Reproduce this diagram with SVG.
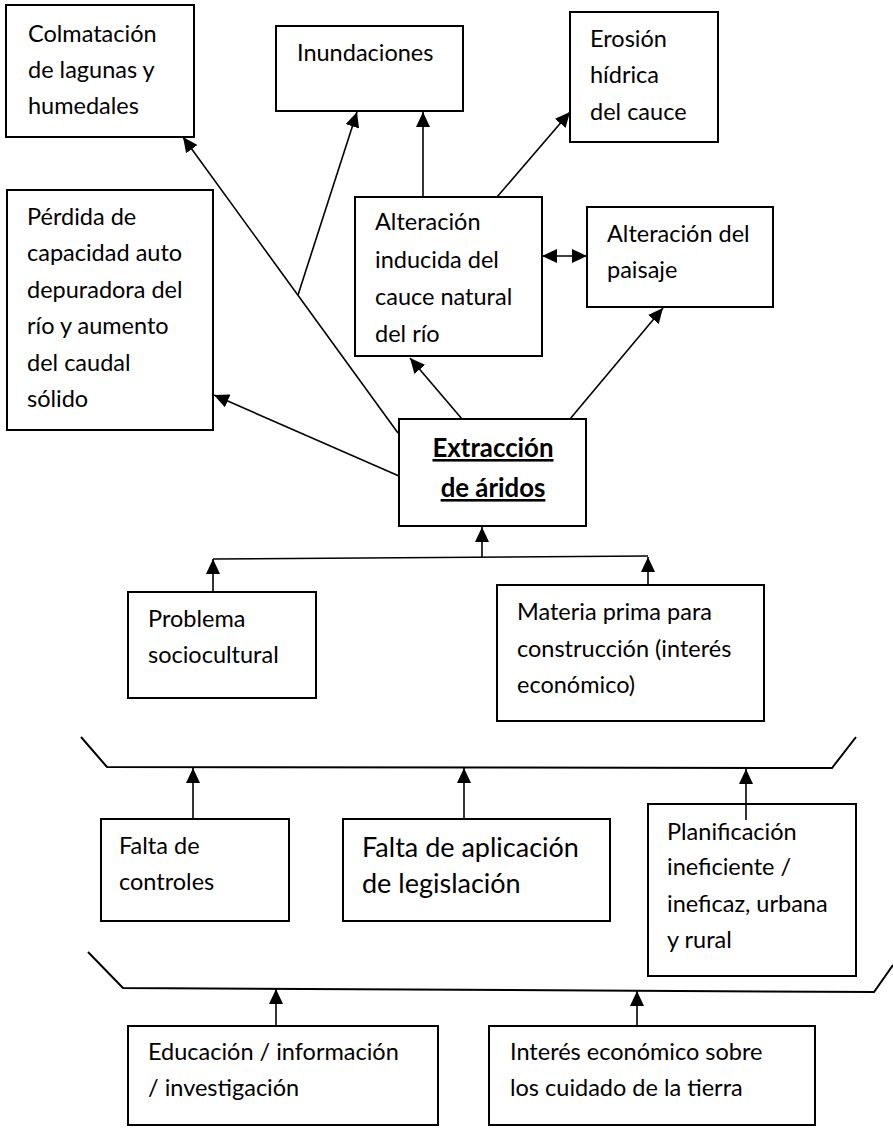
<svg xmlns="http://www.w3.org/2000/svg" width="893" height="1128" viewBox="0 0 893 1128">
<style>
.box{fill:#fff;stroke:#000;stroke-width:2}
.t{font-family:Lato,"Liberation Sans",sans-serif;font-size:23.5px;fill:#000}
.big{font-size:27px}
.b{font-weight:bold;font-size:25.8px;text-decoration:underline;text-decoration-thickness:2px;text-underline-offset:3px}
.c{fill:none;stroke:#000;stroke-width:1.6}
.a{marker-end:url(#ah)}
.br{fill:none;stroke:#000;stroke-width:2}
</style>
<defs>
<marker id="ah" viewBox="0 0 15 14" refX="15" refY="7" markerWidth="15" markerHeight="14" markerUnits="userSpaceOnUse" orient="auto-start-reverse"><path d="M0,0 L15,7 L0,14 z" fill="#000"/></marker>
</defs>
<rect width="893" height="1128" fill="#fff"/>

<g id="connectors">
<line class="c a" x1="398" y1="433" x2="183" y2="137"/>
<line class="c a" x1="298" y1="295" x2="357" y2="112"/>
<line class="c a" x1="423" y1="197" x2="423" y2="112"/>
<line class="c a" x1="497" y1="197" x2="570" y2="112"/>
<line class="c" x1="542" y1="256" x2="587" y2="256" marker-start="url(#ah)" marker-end="url(#ah)"/>
<line class="c a" x1="399" y1="476" x2="214" y2="395"/>
<line class="c a" x1="462" y1="419" x2="410" y2="358"/>
<line class="c a" x1="570" y1="419" x2="663" y2="308"/>
<polyline class="c" points="213,559 648,556"/>
<line class="c a" x1="482" y1="557" x2="482" y2="527"/>
<line class="c a" x1="213" y1="592" x2="213" y2="559"/>
<line class="c a" x1="648" y1="585" x2="648" y2="557"/>
<polyline class="br" points="81,737 107,767 832,768 856,737"/>
<line class="c a" x1="193" y1="819" x2="193" y2="768"/>
<line class="c a" x1="464" y1="819" x2="464" y2="768"/>
<line class="c a" x1="746" y1="820" x2="746" y2="769"/>
<polyline class="br" points="88,952 123,988 874,992 893,965"/>
<line class="c a" x1="276" y1="1026" x2="276" y2="989"/>
<line class="c a" x1="637" y1="1026" x2="637" y2="991"/>
</g>

<g id="colmatacion"><rect class="box" x="6" y="5" width="188" height="132"/>
<text class="t" x="28" y="42">Colmatación</text><text class="t" x="28" y="78">de lagunas y</text><text class="t" x="28" y="114">humedales</text></g>

<g id="inundaciones"><rect class="box" x="276" y="26" width="187" height="85"/>
<text class="t" x="297" y="61">Inundaciones</text></g>

<g id="erosion"><rect class="box" x="570" y="12" width="148" height="130"/>
<text class="t" x="590" y="47">Erosión</text><text class="t" x="590" y="83">hídrica</text><text class="t" x="590" y="120">del cauce</text></g>

<g id="perdida"><rect class="box" x="7" y="190" width="206" height="240"/>
<text class="t" x="27" y="225">Pérdida de</text><text class="t" x="27" y="261">capacidad auto</text><text class="t" x="27" y="298">depuradora del</text><text class="t" x="27" y="334">río y aumento</text><text class="t" x="27" y="371">del caudal</text><text class="t" x="27" y="407">sólido</text></g>

<g id="alteracion-cauce"><rect class="box" x="355" y="197" width="187" height="159"/>
<text class="t" x="375" y="230">Alteración</text><text class="t" x="375" y="268">inducida del</text><text class="t" x="375" y="305">cauce natural</text><text class="t" x="375" y="342">del río</text></g>

<g id="alteracion-paisaje"><rect class="box" x="587" y="207" width="186" height="100"/>
<text class="t" x="607" y="242">Alteración del</text><text class="t" x="607" y="278">paisaje</text></g>

<g id="extraccion"><rect class="box" x="399" y="419" width="187" height="107"/>
<text class="t b" x="493" y="457" text-anchor="middle">Extracción</text><text class="t b" x="493" y="497" text-anchor="middle">de áridos</text></g>

<g id="problema"><rect class="box" x="128" y="592" width="188" height="106"/>
<text class="t" x="148" y="627">Problema</text><text class="t" x="148" y="663">sociocultural</text></g>

<g id="materia"><rect class="box" x="497" y="585" width="267" height="136"/>
<text class="t" x="517" y="620">Materia prima para</text><text class="t" x="517" y="657">construcción (interés</text><text class="t" x="517" y="693">económico)</text></g>

<g id="falta-controles"><rect class="box" x="101" y="819" width="188" height="102"/>
<text class="t" x="119" y="854">Falta de</text><text class="t" x="119" y="890">controles</text></g>

<g id="falta-legislacion"><rect class="box" x="343" y="819" width="267" height="102"/>
<text class="t big" x="362" y="857">Falta de aplicación</text><text class="t big" x="362" y="893">de legislación</text></g>

<g id="planificacion"><rect class="box" x="648" y="804" width="208" height="172"/>
<line class="c" x1="746" y1="804" x2="746" y2="820"/>
<text class="t" x="667" y="840">Planificación</text><text class="t" x="667" y="875">ineficiente /</text><text class="t" x="667" y="912">ineficaz, urbana</text><text class="t" x="667" y="948">y rural</text></g>

<g id="educacion"><rect class="box" x="128" y="1026" width="310" height="99"/>
<text class="t" x="148" y="1060">Educación / información</text><text class="t" x="148" y="1096">/ investigación</text></g>

<g id="interes"><rect class="box" x="489" y="1026" width="326" height="99"/>
<text class="t" x="510" y="1060">Interés económico sobre</text><text class="t" x="510" y="1096">los cuidado de la tierra</text></g>
</svg>
